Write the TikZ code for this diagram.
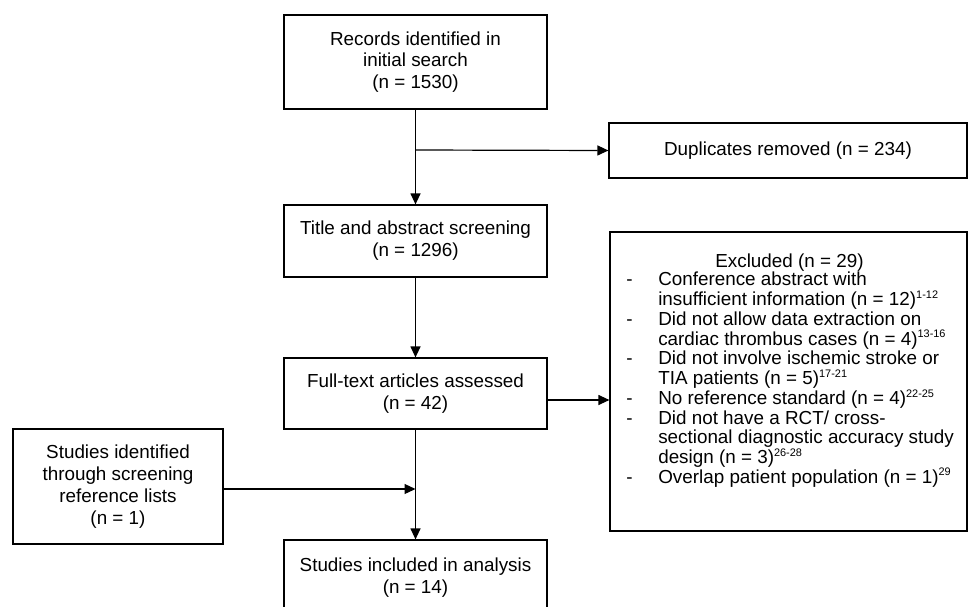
\documentclass[tikz,border=0pt]{standalone}
\usepackage{fontspec}
\setmainfont{Liberation Sans}
\usetikzlibrary{arrows.meta}
\newcommand\supx[1]{\raisebox{5.5pt}{\fontsize{8.2}{8.2}\selectfont #1}}
\begin{document}
\begin{tikzpicture}[x=0.75pt,y=-0.75pt,
  box/.style={draw, line width=0.9pt, inner sep=0pt, align=center, font=\fontsize{14.14}{16.35}\selectfont},
  txt/.style={inner sep=0pt, font=\fontsize{14.14}{16.35}\selectfont},
  arr/.style={line width=0.9pt, -{Triangle[length=8.25pt,width=7.5pt]}}]
\useasboundingbox (0,0) rectangle (968,607);
\node[box, minimum width=197.25pt, minimum height=70.5pt] (rec) at (415.5,62) {Records identified in\\initial search\\(n = 1530)};
\node[box, minimum width=268.5pt, minimum height=41.25pt] (dup) at (788,150.5) {Duplicates removed (n = 234)};
\node[box, minimum width=197.25pt, minimum height=54pt] (title) at (415.5,241) {Title and abstract screening\\(n = 1296)};
\node[box, minimum width=197.25pt, minimum height=53.25pt] (full) at (415.5,393.5) {Full-text articles assessed\\(n = 42)};
\node[box, minimum width=267.75pt, minimum height=224.25pt] (excl) at (788.5,381.5) {};
\node[box, minimum width=157.5pt, minimum height=86.25pt] (left) at (118,486.5) {Studies identified\\through screening\\reference lists\\(n = 1)};
\node[box, minimum width=197.25pt, minimum height=56.25pt] (stud) at (415.5,577.5) {Studies included in analysis\\(n = 14)};
\node[txt, anchor=base] (exh) at (789.5,267) {Excluded (n = 29)};
\node[txt, anchor=north west, align=left, font=\fontsize{14.14}{14.8}\selectfont] (exl) at (626,272) {%
\makebox[24pt][l]{-}Conference abstract with\\
\hspace*{24pt}insufficient information (n = 12)\supx{1-12}\\
\makebox[24pt][l]{-}Did not allow data extraction on\\
\hspace*{24pt}cardiac thrombus cases (n = 4)\supx{13-16}\\
\makebox[24pt][l]{-}Did not involve ischemic stroke or\\
\hspace*{24pt}TIA patients (n = 5)\supx{17-21}\\
\makebox[24pt][l]{-}No reference standard (n = 4)\supx{22-25}\\
\makebox[24pt][l]{-}Did not have a RCT/ cross-\\
\hspace*{24pt}sectional diagnostic accuracy study\\
\hspace*{24pt}design (n = 3)\supx{26-28}\\
\makebox[24pt][l]{-}Overlap patient population (n = 1)\supx{29}};
\draw[arr] (rec.south) -- (title.north);
\coordinate (b1) at (415.5,150);
\draw[arr] (b1) -- (dup.west);
\draw[arr] (title.south) -- (full.north);
\coordinate (b2) at (547,400);
\draw[arr] (b2) -- (b2 -| excl.west);
\draw[arr] (full.south) -- (stud.north);
\coordinate (b3) at (223,489);
\draw[arr] (b3) -- (b3 -| full.south);
\end{tikzpicture}
\end{document}
